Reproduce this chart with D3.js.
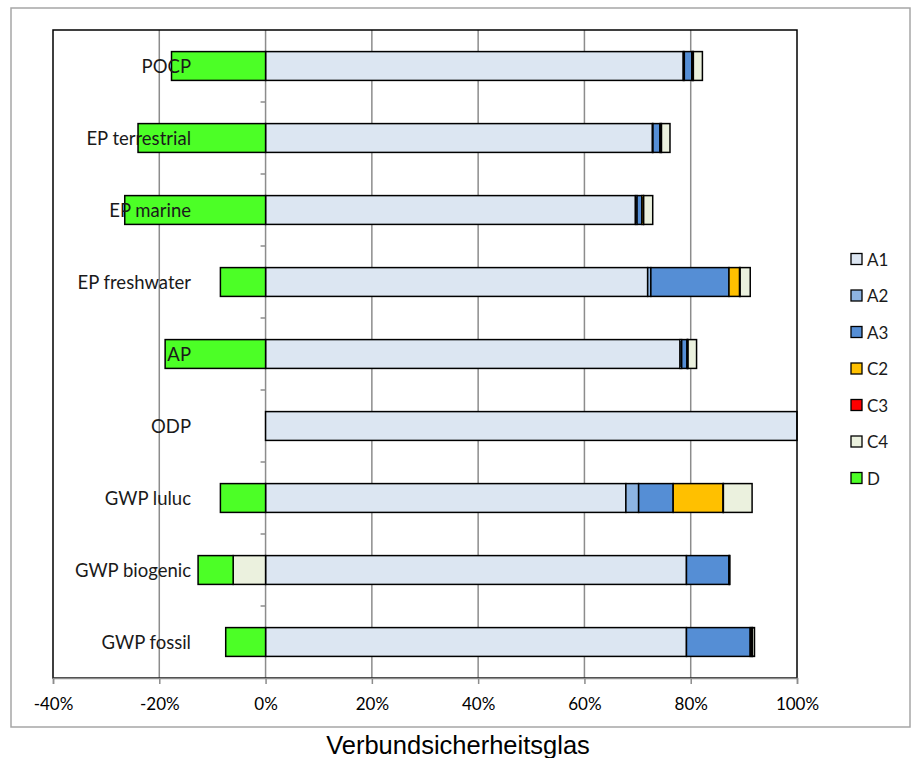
<!DOCTYPE html>
<html>
<head>
<meta charset="utf-8">
<script src="https://cdn.jsdelivr.net/npm/d3@7"></script>
<style>
  html, body { margin: 0; padding: 0; background: #fff; }
  svg { display: block; }
</style>
</head>
<body>
<svg id="chart" width="915" height="758"></svg>
<script>
// Impact categories, top to bottom
const categories = ["POCP", "EP terrestrial", "EP marine", "EP freshwater", "AP", "ODP", "GWP luluc", "GWP biogenic", "GWP fossil"];

// Life-cycle modules (share of total, %)
const A1 = [78.6, 72.8, 69.6, 71.9, 78.0, 100.0, 67.8, 79.2, 79.2];
const A2 = [0.2, 0.1, 0.3, 0.6, 0.3, 0, 2.4, 0, 0];
const A3 = [1.4, 1.3, 0.9, 14.7, 1.0, 0, 6.5, 8.0, 12.0];
const C2 = [0.2, 0.2, 0.3, 2.0, 0.1, 0, 9.4, 0.1, 0.3];
const C3 = [0.1, 0.1, 0.05, 0.1, 0.1, 0, 0.05, 0.05, 0.1];
const C4 = [1.7, 1.6, 1.7, 1.9, 1.6, 0, 5.4, -6.1, 0.4];
const D  = [-17.7, -24.0, -26.5, -8.5, -18.9, 0, -8.5, -6.6, -7.5];

const seriesNames = ["A1", "A2", "A3", "C2", "C3", "C4", "D"];
const seriesValues = [A1, A2, A3, C2, C3, C4, D];
const colors = ["#dce6f2", "#8db4e2", "#558ed5", "#ffc000", "#ff0000", "#ebf1de", "#4cff26"];

const xTicks = [-40, -20, 0, 20, 40, 60, 80, 100];

const rows = categories.map((c, i) => {
  const r = { category: c };
  seriesNames.forEach((s, j) => { r[s] = seriesValues[j][i]; });
  return r;
});

const svg = d3.select("#chart");
const plot = { left: 53, right: 797, top: 30, bottom: 678 };
const labelFont = "Lato, 'Open Sans', sans-serif";

// Outer chart border
svg.append("rect")
  .attr("x", 11).attr("y", 8).attr("width", 899).attr("height", 719)
  .attr("fill", "none").attr("stroke", "#a6a6a6").attr("stroke-width", 1.5);

const x = d3.scaleLinear().domain([-40, 100]).range([plot.left, plot.right]);
const y = d3.scaleBand().domain(categories).range([plot.top, plot.bottom]).paddingInner(0.6).paddingOuter(0.3);
const yb = d3.scaleBand().domain(categories).range([plot.top, plot.bottom]);

// Vertical gridlines
svg.append("g").selectAll("line")
  .data(xTicks.filter(t => t !== -40 && t !== 100))
  .join("line")
  .attr("x1", d => x(d)).attr("x2", d => x(d))
  .attr("y1", plot.top).attr("y2", plot.bottom)
  .attr("stroke", "#8c8c8c").attr("stroke-width", 1.5);

// Category axis at zero with tick marks between categories
const catTicks = categories.slice(1).map(c => yb(c));
svg.append("g").selectAll("line")
  .data(catTicks)
  .join("line")
  .attr("x1", x(0) - 5).attr("x2", x(0))
  .attr("y1", d => d).attr("y2", d => d)
  .attr("stroke", "#8c8c8c").attr("stroke-width", 1.5);

// Stacked bars (positive to the right, negative to the left)
const stack = d3.stack().keys(seriesNames).offset(d3.stackOffsetDiverging);
const layers = stack(rows);

const barG = svg.append("g");
layers.forEach((layer, k) => {
  barG.append("g")
    .selectAll("rect")
    .data(layer.filter(d => d[1] - d[0] !== 0))
    .join("rect")
    .attr("x", d => x(Math.min(d[0], d[1])))
    .attr("width", d => Math.abs(x(d[1]) - x(d[0])))
    .attr("y", d => y(d.data.category))
    .attr("height", y.bandwidth())
    .attr("fill", colors[k])
    .attr("stroke", "#000").attr("stroke-width", 1.5);
});

// Plot frame
svg.append("rect")
  .attr("x", plot.left).attr("y", plot.top)
  .attr("width", plot.right - plot.left).attr("height", plot.bottom - plot.top)
  .attr("fill", "none").attr("stroke", "#000").attr("stroke-width", 1.5);

// X axis
const xAxis = d3.axisBottom(x).tickValues(xTicks).tickFormat(d => d + "%").tickSize(6).tickPadding(14);
const gx = svg.append("g").attr("transform", `translate(0,${plot.bottom})`).call(xAxis);
gx.select(".domain").attr("stroke", "#8c8c8c").attr("stroke-width", 1.5);
gx.selectAll(".tick line").attr("stroke", "#8c8c8c").attr("stroke-width", 1.5);
gx.selectAll(".tick text")
  .attr("fill", "#000")
  .style("font-family", labelFont)
  .style("font-size", "17px");

// Category labels
svg.append("g").selectAll("text")
  .data(categories)
  .join("text")
  .attr("x", 191)
  .attr("y", d => yb(d) + yb.bandwidth() / 2)
  .attr("text-anchor", "end")
  .attr("dominant-baseline", "central")
  .style("font-family", labelFont)
  .style("font-size", "18.5px")
  .attr("fill", "#1a1a1a")
  .text(d => d);

// Legend
const legend = svg.append("g");
seriesNames.forEach((s, i) => {
  const ly = 259 + i * 36.5;
  legend.append("rect")
    .attr("x", 851).attr("y", ly - 5.5).attr("width", 11).attr("height", 11)
    .attr("fill", colors[i]).attr("stroke", "#000").attr("stroke-width", 1.3);
  legend.append("text")
    .attr("x", 867).attr("y", ly)
    .attr("dominant-baseline", "central")
    .style("font-family", labelFont)
    .style("font-size", "17px")
    .attr("fill", "#1a1a1a")
    .text(s);
});

// Title below the chart
svg.append("text")
  .attr("x", 458).attr("y", 745)
  .attr("text-anchor", "middle")
  .attr("dominant-baseline", "central")
  .style("font-family", "'Liberation Sans', Arial, sans-serif")
  .style("font-size", "25.5px")
  .attr("fill", "#000")
  .text("Verbundsicherheitsglas");
</script>
</body>
</html>
